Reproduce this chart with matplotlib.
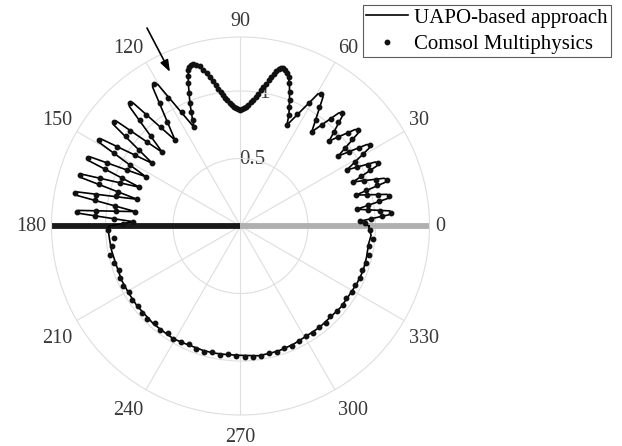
import numpy as np
import matplotlib.pyplot as plt

plt.rcParams['font.family'] = ['Liberation Serif', 'DejaVu Serif']

# UAPO pattern, upper half-space (angle in degrees, normalised field)
upper_deg = [0, 1.0, 2.3, 4.3, 5.0, 5.8, 8.2, 10.6, 11.4, 12.2, 15.0, 16.8, 17.6, 18.4,
             21.4, 23.8, 24.6, 25.4, 27.8, 31.2, 32.0, 32.8, 35.6, 38.3, 39.2, 40.1,
             43.8, 47.2, 48.1, 49.0, 52.9, 57.4, 58.5, 59.6, 65.3,
             66.5, 68.7, 71.1, 73.0, 74.8, 76.3, 79.1, 82.3, 86.3, 88.5, 90.5, 92.5,
             94.2, 97.6, 100.7, 103.4, 105.3, 106.8, 108.5, 110.1, 112.4, 114.0, 115.2,
             120.3, 121.3, 122.3, 127.3, 131.1, 132.0, 132.9, 136.7, 139.8, 140.6, 141.4,
             144.6, 148.0, 148.7, 149.4, 152.5, 155.3, 156.0, 156.7, 159.0, 161.9, 162.5,
             163.1, 165.5, 168.2, 168.8, 169.4, 172.2, 174.5, 175.0, 175.5, 177.7, 178.8, 180]
upper_r = [0.95, 0.92, 0.885, 1.10, 1.125, 1.11, 0.87, 1.11, 1.125, 1.11, 0.885, 1.12, 1.14, 1.12,
           0.895, 1.105, 1.12, 1.105, 0.89, 1.115, 1.13, 1.115, 0.89, 1.11, 1.125, 1.11,
           0.91, 1.11, 1.125, 1.11, 0.875, 1.135, 1.15, 1.135, 0.823,
           0.90, 1.0, 1.12, 1.185, 1.21, 1.195, 1.09, 0.98, 0.89, 0.862, 0.855, 0.865,
           0.886, 0.966, 1.087, 1.188, 1.24, 1.253, 1.22, 1.125, 0.983, 0.88, 0.808,
           1.215, 1.235, 1.22, 0.80, 1.21, 1.225, 1.21, 0.795, 1.205, 1.22, 1.205,
           0.80, 1.215, 1.23, 1.215, 0.79, 1.225, 1.24, 1.225, 0.80, 1.235, 1.25,
           1.235, 0.79, 1.235, 1.25, 1.235, 0.785, 1.205, 1.22, 1.205, 0.795, 0.87, 0.975]

# UAPO pattern, lower half-space
lower_deg = [180, 182, 186, 190.8, 197, 204.6, 211, 217.4, 223, 228.3, 234, 239.2, 244,
             248.6, 253, 257.9, 264, 270, 277.8, 283, 287.6, 294, 301, 308, 314.5, 321,
             328.2, 334, 340, 346, 352, 356, 358, 360]
lower_r = [0.975, 0.98, 0.975, 0.972, 0.965, 0.968, 0.966, 0.968, 0.965, 0.97, 0.968, 0.972, 0.964,
           0.96, 0.962, 0.962, 0.958, 0.958, 0.97, 0.968, 0.966, 0.96, 0.95, 0.952, 0.948, 0.956,
           0.955, 0.962, 0.967, 0.962, 0.958, 0.97, 0.955, 0.95]

# Comsol Multiphysics samples (angle in degrees, normalised field)
comsol_upper = [
    (1.2, 0.92), (2.3, 0.885), (3.2, 0.965), (4.1, 1.05), (5.0, 1.12), (6.1, 1.04), (7.1, 0.955),
    (8.2, 0.872), (9.3, 0.955), (10.3, 1.04), (11.4, 1.12), (12.6, 1.045), (13.8, 0.965),
    (15.0, 0.886), (15.9, 0.97), (16.7, 1.055), (17.6, 1.135), (18.9, 1.06), (20.1, 0.975),
    (21.4, 0.897), (22.5, 0.97), (23.5, 1.045), (24.6, 1.117), (25.7, 1.045), (26.7, 0.965),
    (27.8, 0.892), (29.2, 0.97), (30.6, 1.05), (32.0, 1.127), (33.2, 1.05), (34.4, 0.97),
    (35.6, 0.892), (36.8, 0.97), (38.0, 1.045), (39.2, 1.122), (40.7, 1.055), (42.3, 0.98),
    (43.8, 0.912), (45.2, 0.98), (46.7, 1.055), (48.1, 1.122), (49.7, 1.04), (51.3, 0.96),
    (52.9, 0.877), (54.8, 0.965), (56.6, 1.06), (58.5, 1.148), (60.8, 1.04), (63.0, 0.93),
    (65.3, 0.825), (66.5, 0.90), (67.6, 0.95), (68.7, 1.0), (69.9, 1.06), (71.1, 1.12),
    (72.0, 1.16), (73.0, 1.185), (73.9, 1.2), (74.8, 1.21), (75.6, 1.205), (76.3, 1.195),
    (77.0, 1.175), (77.7, 1.155), (78.4, 1.13), (79.1, 1.10), (79.9, 1.07), (80.7, 1.045),
    (81.5, 1.015), (82.3, 0.99), (83.3, 0.965), (84.3, 0.94), (85.3, 0.92), (86.3, 0.90),
    (87.3, 0.883), (88.3, 0.872), (89.3, 0.865), (90.3, 0.862), (91.3, 0.865), (92.3, 0.872),
    (93.3, 0.885), (94.2, 0.898), (95.1, 0.915), (96.0, 0.935), (96.8, 0.955), (97.6, 0.978),
    (98.4, 1.0), (99.2, 1.03), (100.0, 1.063), (100.7, 1.093), (101.6, 1.125), (102.5, 1.16),
    (103.4, 1.19), (104.4, 1.22), (105.3, 1.24), (106.2, 1.25), (107.1, 1.25), (107.9, 1.235),
    (108.5, 1.22), (109.3, 1.175), (110.1, 1.125), (111.2, 1.055), (112.4, 0.983), (113.3, 0.92),
    (114.3, 0.86), (115.2, 0.81), (117.2, 0.95), (119.3, 1.09), (121.3, 1.232), (123.3, 1.09),
    (125.3, 0.945), (127.3, 0.802), (128.9, 0.94), (130.4, 1.08), (132.0, 1.222), (133.6, 1.08),
    (135.1, 0.94), (136.7, 0.797), (138.0, 0.935), (139.3, 1.08), (140.6, 1.217), (141.9, 1.08),
    (143.3, 0.94), (144.6, 0.802), (146.0, 0.945), (147.3, 1.085), (148.7, 1.228), (150.0, 1.085),
    (151.2, 0.935), (152.5, 0.792), (153.7, 0.94), (154.8, 1.09), (156.0, 1.237), (157.0, 1.09),
    (158.0, 0.945), (159.0, 0.802), (160.2, 0.95), (161.3, 1.10), (162.5, 1.248), (163.5, 1.095),
    (164.5, 0.945), (165.5, 0.792), (166.6, 0.945), (167.7, 1.095), (168.8, 1.247), (169.9, 1.095),
    (171.1, 0.94), (172.2, 0.787), (173.1, 0.93), (174.1, 1.075), (175.0, 1.217), (175.9, 1.08),
    (176.8, 0.935), (177.7, 0.797), (178.8, 0.87),
]
comsol_lower = [
    (181.8, 0.985), (185.4, 0.94), (189.0, 0.965), (192.6, 0.99), (196.2, 0.975), (199.8, 0.96),
    (203.4, 0.972), (207.0, 0.975), (210.6, 0.96), (214.2, 0.975), (217.8, 0.962), (221.4, 0.97),
    (225.0, 0.975), (228.6, 0.96), (232.2, 0.972), (235.8, 0.962), (239.4, 0.975), (243.0, 0.966),
    (246.6, 0.955), (250.2, 0.965), (253.8, 0.97), (257.4, 0.958), (261.0, 0.968), (264.6, 0.955),
    (268.2, 0.962), (271.8, 0.972), (275.4, 0.978), (279.0, 0.972), (282.6, 0.962), (286.2, 0.97),
    (289.8, 0.958), (293.4, 0.965), (297.0, 0.955), (300.6, 0.948), (304.2, 0.958), (307.8, 0.945),
    (311.4, 0.955), (315.0, 0.942), (318.6, 0.952), (322.2, 0.958), (325.8, 0.945), (329.4, 0.96),
    (333.0, 0.955), (336.6, 0.968), (340.2, 0.958), (343.8, 0.97), (347.4, 0.975), (351.0, 0.965),
    (354.6, 0.985), (358.2, 0.96),
]

angle_ticks = list(range(0, 360, 30))
r_ticks = [0.5, 1]
r_labels = ['0.5', '1']
r_max = 1.4

grid_col = '#dedede'
text_col = '#383838'

fig = plt.figure(figsize=(6.22, 4.46), dpi=100)
ax = fig.add_axes([0.0828, 0.0695, 0.6077, 0.8475], projection='polar')

ax.set_rlim(0, r_max)
ax.set_rticks(r_ticks)
ax.set_yticklabels([])
ax.set_xticks(np.radians(angle_ticks))
ax.set_xticklabels([])
ax.grid(color=grid_col, lw=0.8)
ax.spines['polar'].set_color(grid_col)
ax.spines['polar'].set_linewidth(0.8)

# angle labels, anchored by the corner that faces the circle
for a in angle_ticks:
    t = np.radians(a)
    c, s = np.cos(t), np.sin(t)
    ha = 'left' if c > 0.1 else ('right' if c < -0.1 else 'center')
    va = 'bottom' if s > 0.1 else ('top' if s < -0.1 else 'center')
    dy = 6 * s - 1.8 if s > 0.1 else (6 * s - 3 if s < -0.1 else 0)
    ax.annotate(str(a), xy=(t, r_max), xytext=(4 * c, dy), textcoords='offset points',
                ha=ha, va=va, fontsize=14.5, color=text_col, annotation_clip=False)

# radial labels sit along the 80 degree direction
for r, lab in zip(r_ticks, r_labels):
    ax.text(np.radians(80), r, lab, ha='center', va='center', fontsize=15,
            color=text_col, zorder=1)

# the plate: dark half towards 180, light half towards 0
ax.plot([np.pi, np.pi], [0, r_max], color='#1a1a1a', lw=4.2, solid_capstyle='butt', zorder=2)
ax.plot([0, 0], [0, r_max], color='#b0b0b0', lw=4.2, solid_capstyle='butt', zorder=2)

line_deg = np.array(upper_deg + lower_deg[1:])
line_r = np.array(upper_r + lower_r[1:])
ax.plot(np.radians(line_deg), line_r, color='k', lw=1.2, zorder=3,
        label='UAPO-based approach')

dots = np.array(comsol_upper + comsol_lower)
ax.plot(np.radians(dots[:, 0]), dots[:, 1], ls='none', marker='o', ms=3.2,
        color='#111111', zorder=4, label='Comsol Multiphysics')

leg = fig.legend(loc='upper right', bbox_to_anchor=(0.982, 0.989), fontsize=15,
                 frameon=True, fancybox=False, edgecolor='#333333', borderaxespad=0,
                 handlelength=2.0, handletextpad=0.3, borderpad=0.15, labelspacing=0.32)
leg.get_frame().set_linewidth(0.8)

# arrow pointing at the 120 degree lobe
ax.annotate('', xy=(0.2733, 0.8386), xytext=(0.2363, 0.9372),
            xycoords='figure fraction', textcoords='figure fraction',
            arrowprops=dict(arrowstyle='-|>,head_length=0.7,head_width=0.25',
                            color='k', lw=1.2, shrinkA=0, shrinkB=0))

fig.savefig('out.png', dpi=100)
